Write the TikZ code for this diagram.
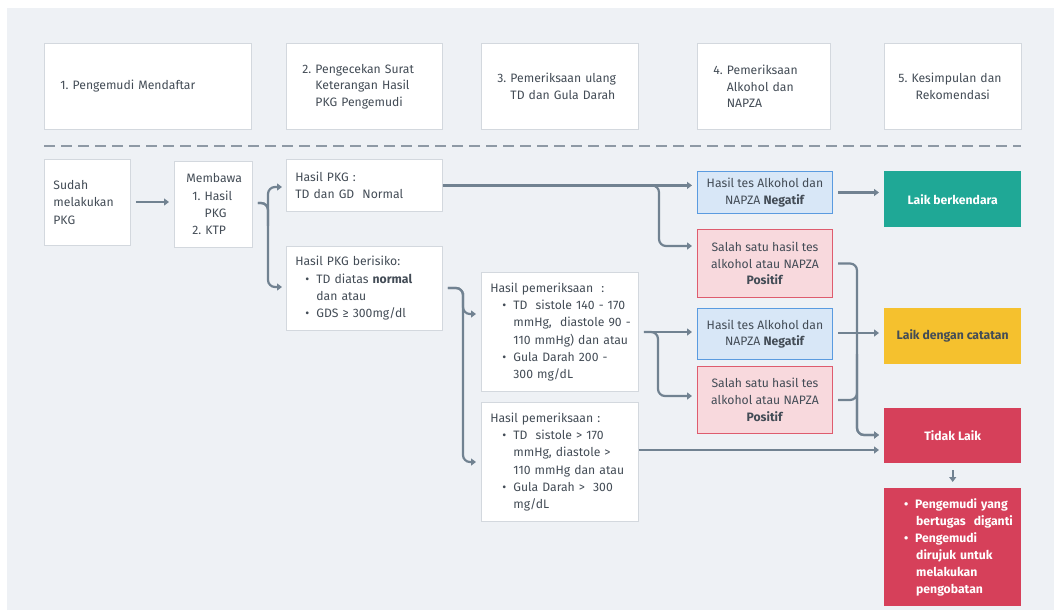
\documentclass[tikz,border=0pt]{standalone}
\usepackage{fontspec}
\setmainfont{Fira Sans}
\usetikzlibrary{arrows.meta,calc}
\definecolor{bgc}{HTML}{EEF1F5}
\definecolor{bordc}{HTML}{D3D8DE}
\definecolor{txt}{HTML}{434C56}
\definecolor{conc}{HTML}{718291}
\definecolor{dashc}{HTML}{8E99A5}
\definecolor{negf}{HTML}{D8E7F7}
\definecolor{negd}{HTML}{5A9BE0}
\definecolor{posf}{HTML}{F8D9DD}
\definecolor{posd}{HTML}{DE5C6E}
\definecolor{tealc}{HTML}{1FA896}
\definecolor{yelc}{HTML}{F5C12E}
\definecolor{redc}{HTML}{D6405A}
\newcommand{\bl}[1][12]{\hspace*{#1pt}\makebox[11pt][l]{\textbullet}}
\newcommand{\ind}[1][23]{\hspace*{#1pt}}
\tikzset{
  base/.style={anchor=north west, inner sep=0pt, text=txt},
  hdr/.style={base, draw=bordc, fill=white, line width=0.8pt, align=left,
     font=\fontsize{12.2}{16.5}\selectfont},
  wbox/.style={base, draw=bordc, fill=white, line width=0.8pt, align=left,
     font=\fontsize{12.2}{17.3}\selectfont},
  negbox/.style={base, draw=negd, fill=negf, line width=1pt, align=center,
     font=\fontsize{12.2}{16.8}\selectfont},
  posbox/.style={base, draw=posd, fill=posf, line width=1pt, align=center,
     font=\fontsize{12.2}{16.8}\selectfont},
  resbox/.style={base, fill=#1, text=white, align=center,
     font=\fontsize{12.2}{17}\selectfont\bfseries},
  conn/.style={draw=conc, line width=2.2pt, rounded corners=7pt,
     -{Triangle[length=5pt,width=7pt]}},
}
\begin{document}
\begin{tikzpicture}[x=1pt,y=-1pt]
\useasboundingbox (0,0) rectangle (1054,610);
\fill[white] (0,0) rectangle (1054,610);
\fill[bgc] (7,8) rectangle (1054,610);
% headers
\node[hdr, minimum width=207pt, minimum height=86pt, text width=175pt] (h1) at (44,43) {1.~Pengemudi Mendaftar};
\node[hdr, minimum width=156pt, minimum height=86pt, text width=124pt] (h2) at (286,43) {\mbox{2.~Pengecekan Surat}\\\mbox{\phantom{2.}~Keterangan Hasil}\\\mbox{\phantom{2.}~PKG Pengemudi}};
\node[hdr, minimum width=157pt, minimum height=86pt, text width=125pt] (h3) at (481,43) {\mbox{3.~Pemeriksaan ulang}\\\mbox{\phantom{3.}~TD dan Gula Darah}};
\node[hdr, minimum width=133pt, minimum height=86pt, text width=101pt] (h4) at (697,43) {4.~Pemeriksaan\\\phantom{4.}~Alkohol dan\\\phantom{4.}~NAPZA};
\node[hdr, minimum width=137pt, minimum height=86pt, text width=109pt] (h5) at (884,43) {\mbox{5.~Kesimpulan dan}\\\phantom{5.}~~Rekomendasi};
\coordinate (dl) at (44,146);
\coordinate (dr) at (1021,146);
\draw[dashc, line width=2.6pt, dash pattern=on 11pt off 6pt] (dl) -- (dr);
% body boxes
\node[wbox, minimum width=86pt, minimum height=86pt, text width=68pt] (sudah) at (44,159) {Sudah\\melakukan\\PKG};
\node[wbox, minimum width=78pt, minimum height=86pt, text width=72pt] (memb) at (174,161) {\hspace*{9pt}Membawa\\\hspace*{15pt}1.~Hasil\\\hspace*{15pt}\phantom{1.~}PKG\\\hspace*{15pt}2.~KTP};
\node[wbox, minimum width=156pt, minimum height=52pt, text width=138pt] (hpkg) at (286,159) {Hasil PKG :\\\mbox{TD dan GD~ Normal}};
\node[wbox, minimum width=156pt, minimum height=84pt, text width=138pt] (hrisk) at (286,246) {Hasil PKG berisiko:\\\bl[10]\mbox{TD diatas \textbf{normal}}\\\ind[21]dan atau\\\bl[10]\mbox{GDS ≥ 300mg/dl}};
\node[wbox, minimum width=157pt, minimum height=119pt, text width=139pt] (hp1) at (481,272) {\mbox{Hasil pemeriksaan~ :}\\\bl\mbox{TD~ sistole 140 - 170}\\\ind\mbox{mmHg,~ diastole 90 -}\\\ind\mbox{110 mmHg) dan atau}\\\bl\mbox{Gula Darah 200 -}\\\ind\mbox{300 mg/dL}};
\node[wbox, minimum width=157pt, minimum height=119pt, text width=139pt] (hp2) at (481,402) {\mbox{Hasil pemeriksaan :}\\\bl\mbox{TD~ sistole > 170}\\\ind\mbox{mmHg, diastole >}\\\ind\mbox{110 mmHg dan atau}\\\bl\mbox{Gula Darah >~ 300}\\\ind\mbox{mg/dL}};
\node[negbox, minimum width=135pt, minimum height=42pt] (neg1) at (697,171) {Hasil tes Alkohol dan\\NAPZA \textbf{Negatif}};
\node[posbox, minimum width=135pt, minimum height=68pt] (pos1) at (697,229) {Salah satu hasil tes\\alkohol atau NAPZA\\\textbf{Positif}};
\node[negbox, minimum width=135pt, minimum height=51pt] (neg2) at (697,308) {Hasil tes Alkohol dan\\NAPZA \textbf{Negatif}};
\node[posbox, minimum width=135pt, minimum height=67pt] (pos2) at (697,366) {Salah satu hasil tes\\alkohol atau NAPZA\\\textbf{Positif}};
\node[resbox=tealc, minimum width=137pt, minimum height=56pt] (laik1) at (884,171) {Laik berkendara};
\node[resbox=yelc, minimum width=137pt, minimum height=56pt, text=txt] (laik2) at (884,308) {Laik dengan catatan};
\node[resbox=redc, minimum width=137pt, minimum height=55pt] (tidak) at (884,408) {Tidak Laik};
\node[resbox=redc, minimum width=137pt, minimum height=118pt, align=left, text width=127pt] (act) at (884,488) {\bl[15]\mbox{Pengemudi yang}\\\ind[27]\mbox{bertugas~ diganti}\\\bl[15]Pengemudi\\\ind[27]\mbox{dirujuk untuk}\\\ind[27]melakukan\\\ind[27]pengobatan};
% connector helper coordinates
\coordinate (j1) at (268,230);
\coordinate (j2) at (463,300);
\coordinate (j3) at (659,230);
\coordinate (j4) at (658,360);
\coordinate (j5) at (857,350);
\coordinate (pos1in) at (697,246);
\coordinate (pos2in) at (697,396);
\coordinate (hp1in) at (481,314);
\coordinate (hp2in) at (481,462);
\coordinate (tin) at (884,435);
\coordinate (tin2) at (884,450);
% connectors
\draw[conn, shorten <=5pt, shorten >=5pt] (sudah.east |- 0,202) -- (memb.west |- 0,202);
\draw[conn, shorten <=5pt, shorten >=4pt] (memb.east |- 0,203) -| (j1) |- (hpkg.west |- 0,187);
\draw[conn, shorten <=5pt, shorten >=4pt] (memb.east |- 0,203) -| (j1) |- (hrisk.west |- 0,287);
\draw[conn, shorten >=5pt] (hpkg.east) -- (hpkg.east -| neg1.west);
\draw[conn, shorten >=5pt] (hpkg.east) -| (j3) |- (pos1in);
\draw[conn, shorten <=5pt, shorten >=5pt] (neg1.east) -- (neg1.east -| laik1.west);
\draw[conn, shorten <=5pt, shorten >=5pt] (hrisk.east |- 0,288) -| (j2) |- (hp1in);
\draw[conn, shorten <=5pt, shorten >=5pt] (hrisk.east |- 0,288) -| (j2) |- (hp2in);
\draw[conn, shorten <=5pt, shorten >=5pt] (hp1.east |- 0,332) -- (neg2.west |- 0,332);
\draw[conn, shorten <=5pt, shorten >=5pt] (hp1.east |- 0,332) -| (j4) |- (pos2in);
\draw[conn, shorten <=5pt, shorten >=5pt] (neg2.east |- 0,333) -- (laik2.west |- 0,333);
\draw[conn, shorten <=5pt, shorten >=5pt] (pos1.east) -| (j5) |- (tin);
\draw[conn, shorten <=5pt, shorten >=5pt] (pos2.east) -| (j5) |- (tin);
\draw[conn] (hp2.east |- tin2) -- ([xshift=-5pt]tin2);
\draw[conn, line width=1.6pt, shorten <=7pt, shorten >=6pt] (tidak.south) -- (act.north);
\end{tikzpicture}
\end{document}
